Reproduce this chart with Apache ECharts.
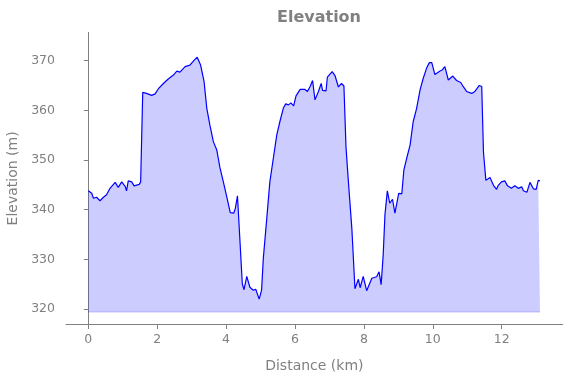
<!DOCTYPE html>
<html>
<head>
<meta charset="utf-8">
<script src="https://cdn.jsdelivr.net/npm/echarts@6/dist/echarts.min.js"></script>
<style>html,body{margin:0;padding:0;background:#fff}#c{width:571px;height:378px}</style>
</head>
<body>
<div id="c"></div>
<script>
const distanceKm = [0.00,0.10,0.15,0.24,0.34,0.44,0.53,0.63,0.78,0.87,0.97,1.07,1.11,1.16,1.26,1.33,1.48,1.52,1.58,1.69,1.84,1.94,2.03,2.18,2.32,2.47,2.57,2.66,2.81,2.95,3.05,3.16,3.26,3.36,3.44,3.53,3.63,3.73,3.82,3.92,4.02,4.12,4.22,4.27,4.33,4.40,4.47,4.52,4.60,4.69,4.79,4.86,4.96,5.03,5.08,5.18,5.27,5.37,5.47,5.56,5.66,5.73,5.81,5.88,5.96,6.03,6.15,6.29,6.36,6.44,6.51,6.58,6.68,6.76,6.80,6.90,6.94,7.08,7.16,7.26,7.35,7.42,7.48,7.55,7.65,7.74,7.84,7.89,7.98,8.08,8.23,8.37,8.44,8.50,8.56,8.61,8.68,8.75,8.83,8.90,9.01,9.10,9.16,9.24,9.34,9.43,9.53,9.63,9.72,9.82,9.90,9.97,10.06,10.21,10.27,10.35,10.45,10.58,10.69,10.81,10.88,10.98,11.03,11.13,11.22,11.35,11.42,11.47,11.54,11.66,11.76,11.85,11.90,11.99,12.09,12.17,12.28,12.38,12.48,12.58,12.63,12.73,12.82,12.92,13.00,13.06,13.11];
const elevationM = [343.8,343.3,342.3,342.5,341.8,342.5,343.0,344.3,345.5,344.5,345.6,344.7,343.8,345.8,345.6,344.8,345.1,345.6,363.6,363.4,363.0,363.3,364.3,365.4,366.3,367.1,367.9,367.7,368.8,369.1,369.9,370.7,369.1,365.8,360.4,357.0,353.7,352.0,348.5,345.6,342.6,339.4,339.3,340.3,342.8,334.0,325.1,323.9,326.6,324.4,323.8,324.0,322.0,323.8,330.2,338.2,345.6,350.3,355.0,357.7,360.4,361.3,361.1,361.5,360.9,362.9,364.2,364.2,363.8,364.8,366.0,362.1,363.8,365.4,364.0,363.9,366.7,367.8,367.0,364.7,365.4,364.9,352.6,345.6,336.2,324.1,326.0,324.3,326.6,323.7,326.2,326.5,327.5,324.9,330.9,338.9,343.8,341.3,342.1,339.3,343.3,343.2,348.0,350.3,353.0,357.7,360.4,364.1,366.4,368.5,369.6,369.6,367.2,367.9,368.1,368.8,366.1,366.9,366.0,365.6,364.8,363.8,364.1,363.4,363.8,365.0,364.8,351.6,345.9,346.5,344.9,344.1,344.9,345.6,345.8,344.8,344.3,344.8,344.3,344.6,343.8,343.5,345.5,344.2,344.1,345.9,345.8];
const xTicks = [0,2,4,6,8,10,12];
const yTicks = [320,330,340,350,360,370];
const fillBase = 319.4;

const chart = echarts.init(document.getElementById('c'), null, {renderer:'canvas'});
const gray = '#808080';
const font = 'DejaVu Sans';
const points = distanceKm.map((d,i)=>[d, elevationM[i]]);
chart.setOption({
  animation:false,
  backgroundColor:'#ffffff',
  title:{text:'Elevation', left:314, top:5, textAlign:'center',
    textStyle:{color:gray, fontFamily:font, fontWeight:'bold', fontSize:16}},
  grid:{left:66, right:8.3, top:32.3, bottom:53.5, containLabel:false, outerBoundsMode:'none'},
  xAxis:{type:'value', min:-0.647, max:13.77,
    name:'Distance (km)', nameLocation:'middle', nameGap:35,
    nameTextStyle:{color:gray, fontFamily:font, fontSize:14},
    axisLine:{show:true, lineStyle:{color:gray, width:1}},
    axisTick:{show:true, length:4.5, customValues:xTicks, lineStyle:{color:gray}},
    axisLabel:{customValues:xTicks, color:gray, fontFamily:font, fontSize:12.5, margin:9},
    splitLine:{show:false}},
  yAxis:{type:'value', min:316.9, max:375.7,
    name:'Elevation (m)', nameLocation:'middle', nameGap:40, nameRotate:90,
    nameTextStyle:{color:gray, fontFamily:font, fontSize:14},
    axisLine:{show:true, lineStyle:{color:gray, width:1}},
    axisTick:{show:true, length:4.5, customValues:yTicks, lineStyle:{color:gray}},
    axisLabel:{customValues:yTicks, color:gray, fontFamily:font, fontSize:12.5, margin:11},
    splitLine:{show:false}},
  series:[{
    type:'line', data:points, showSymbol:false, symbol:'none',
    lineStyle:{color:'#0000ff', width:1.2},
    areaStyle:{color:'#0000ff', opacity:0.2, origin:fillBase},
    z:3
  },{
    type:'line', data:[[distanceKm[0],fillBase],[distanceKm[distanceKm.length-1],fillBase]],
    showSymbol:false, symbol:'none', silent:true,
    lineStyle:{color:'rgba(0,0,255,0.2)', width:1}, z:2
  }]
});
</script>
</body>
</html>
